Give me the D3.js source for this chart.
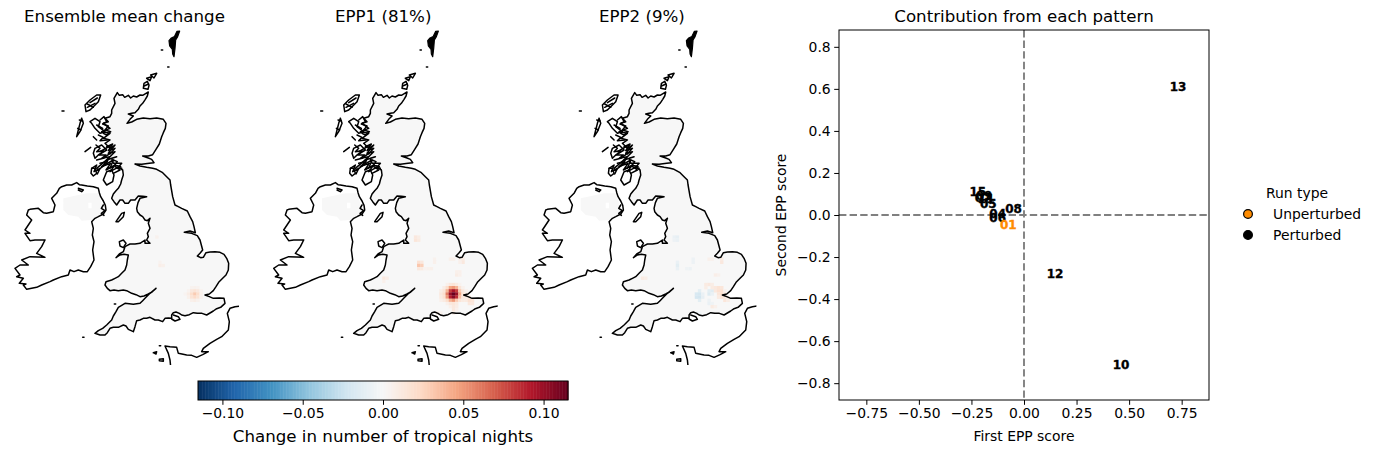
<!DOCTYPE html>
<html><head><meta charset="utf-8">
<script src="https://cdn.jsdelivr.net/npm/d3@7"></script>
<style>html,body{margin:0;padding:0;background:#fff}svg{display:block}text{font-family:"DejaVu Sans",sans-serif;fill:#000}</style>
</head><body><svg id="c" width="1376" height="454"></svg>
<script>
// Colour map (RdBu) and its limit
const rdbuStops=["#053061","#2166ac","#4393c3","#92c5de","#d1e5f0","#f7f7f7","#fddbc7","#f4a582","#d6604d","#b2182b","#67001f"];
const colourLimit=0.1152;
const colourbarTicks=[-0.10,-0.05,0,0.05,0.10];
const panelTitles=["Ensemble mean change","EPP1 (81%)","EPP2 (9%)"];
const colourbarTitle="Change in number of tropical nights";

// Map grid cells: [column, row, change]
const meanCells=[[60,84,.004],[61,84,.005],[62,84,.004],[59,85,.004],[60,85,.012],[61,85,.016],[62,85,.012],[63,85,.004],[58,86,.003],[59,86,.008],[60,86,.02],[61,86,.03],[62,86,.02],[63,86,.006],[59,87,.006],[60,87,.016],[61,87,.022],[62,87,.016],[63,87,.005],[60,88,.006],[61,88,.008],[62,88,.005],[49,68,.005],[50,77,.007],[51,77,.006],[50,76,.004]];
const epp1Cells=[[59,83,.006],[60,83,.012],[61,83,.015],[62,83,.01],[63,83,.004],[58,84,.008],[59,84,.02],[60,84,.045],[61,84,.05],[62,84,.04],[63,84,.015],[64,84,.005],[57,85,.008],[58,85,.015],[59,85,.04],[60,85,.08],[61,85,.095],[62,85,.08],[63,85,.03],[64,85,.012],[65,85,.005],[57,86,.012],[58,86,.02],[59,86,.06],[60,86,.1],[61,86,.115],[62,86,.1],[63,86,.045],[64,86,.015],[65,86,.008],[57,87,.01],[58,87,.018],[59,87,.05],[60,87,.09],[61,87,.105],[62,87,.085],[63,87,.035],[64,87,.012],[65,87,.01],[66,87,.008],[57,88,.006],[58,88,.01],[59,88,.02],[60,88,.04],[61,88,.05],[62,88,.03],[63,88,.015],[64,88,.01],[65,88,.01],[66,88,.018],[67,88,.015],[59,89,.006],[60,89,.012],[61,89,.014],[62,89,.01],[66,89,.012],[67,89,.012],[60,90,.006],[61,90,.012],[62,90,.008],[61,91,.012],[62,91,.006],[61,92,.008],[56,92,.008],[57,92,.005],[50,76,.018],[51,76,.012],[50,77,.032],[51,77,.028],[50,78,.012],[51,78,.01],[49,68,.012],[50,68,.008],[49,69,.014],[50,69,.01],[39,81,.012],[40,81,.008],[39,82,.006],[60,75,.006],[61,75,.006],[63,75,.006],[64,75,.01],[64,76,.012],[63,76,.006],[62,79,.006],[63,79,.006],[62,80,.008],[63,80,.006],[55,75,.005],[55,76,.006],[53,78,.005],[54,78,.006],[52,78,.004]];
const epp2Cells=[[57,85,-.012],[56,86,-.018],[57,86,-.02],[58,86,-.008],[56,87,-.02],[57,87,-.022],[58,87,-.01],[57,88,-.012],[60,85,-.012],[61,85,-.014],[60,86,-.016],[61,86,-.008],[60,88,-.006],[60,89,-.008],[61,89,-.005],[59,83,.01],[60,83,.012],[61,83,.008],[59,84,.008],[61,84,.01],[62,84,.012],[63,84,.016],[64,84,.014],[62,85,.012],[63,85,.018],[64,85,.018],[65,85,.006],[63,86,.014],[64,86,.02],[65,86,.012],[63,87,.01],[64,87,.016],[65,87,.012],[66,87,.006],[65,88,.014],[66,88,.008],[61,90,.01],[62,90,.006],[49,68,-.008],[50,68,-.01],[49,69,-.006],[50,69,-.008],[50,76,-.008],[50,77,-.012],[50,78,-.008],[54,78,-.006],[53,78,-.005],[55,75,-.006],[55,76,-.006],[39,81,.01],[40,81,.008],[60,75,.006],[61,75,.005],[64,75,.01],[64,76,.012],[62,80,.007],[63,80,.005],[56,92,-.006],[57,92,-.004]];
const cellLists=[meanCells,epp1Cells,epp2Cells];

// Coast outlines in map grid units (easting, southing)
const greatBritain=[[352,218],[358,226],[368,224],[374,232],[385,226],[392,234],[400,228],[410,231],[420,225],[428,226],[438,220],[445,216],[442,228],[436,238],[428,250],[420,258],[415,268],[405,278],[395,280],[385,282],[400,288],[390,298],[381,310],[395,306],[410,298],[430,294],[450,296],[470,294],[490,298],[498,310],[496,325],[490,338],[485,350],[478,372],[468,388],[458,404],[445,408],[428,408],[445,414],[455,418],[462,428],[448,430],[425,433],[405,432],[420,438],[440,442],[458,445],[470,448],[488,458],[500,470],[510,480],[512,495],[518,530],[525,555],[535,560],[545,565],[562,573],[570,590],[578,605],[582,620],[586,638],[570,633],[553,637],[575,640],[592,647],[600,660],[604,675],[608,690],[600,700],[592,708],[602,713],[610,712],[618,698],[630,696],[645,695],[660,697],[672,703],[680,715],[686,730],[685,750],[678,765],[668,775],[656,787],[648,800],[640,812],[628,822],[615,825],[628,830],[640,835],[658,834],[672,835],[675,850],[662,862],[650,866],[640,873],[620,885],[606,880],[592,880],[580,878],[568,884],[555,887],[545,885],[538,880],[528,876],[520,878],[515,885],[515,895],[505,894],[495,895],[488,905],[475,900],[465,900],[450,892],[440,895],[430,895],[420,900],[410,902],[405,920],[400,935],[385,928],[378,918],[370,915],[355,922],[340,922],[330,925],[322,938],[315,945],[300,945],[285,940],[295,932],[308,925],[320,915],[335,900],[340,888],[348,875],[355,862],[375,850],[400,853],[420,850],[428,842],[435,835],[450,820],[468,805],[456,816],[445,822],[432,828],[420,830],[408,824],[395,820],[380,812],[370,810],[355,812],[342,810],[330,812],[322,805],[315,795],[318,785],[335,780],[345,775],[355,770],[365,760],[375,750],[380,735],[382,720],[385,705],[372,703],[360,705],[348,713],[358,702],[370,695],[375,680],[382,676],[390,672],[405,672],[420,670],[435,660],[435,670],[450,670],[440,660],[445,650],[442,640],[450,625],[445,610],[450,595],[442,602],[435,600],[428,590],[420,585],[412,575],[410,565],[414,548],[420,535],[440,530],[428,529],[415,528],[405,540],[392,540],[385,550],[375,550],[368,540],[360,540],[350,555],[342,545],[335,535],[340,522],[348,512],[355,505],[362,492],[365,480],[370,465],[368,450],[355,442],[365,430],[340,430],[335,415],[350,410],[320,420],[345,395],[325,400],[345,375],[330,385],[315,370],[330,360],[310,355],[330,340],[305,335],[330,325],[310,310],[325,305],[315,295],[330,290],[335,280],[335,270],[345,250],[342,235],[352,218]];
const ireland=[[230,488],[238,494],[245,495],[262,498],[280,500],[295,505],[298,518],[302,530],[310,543],[316,556],[318,570],[310,582],[295,590],[285,595],[275,605],[280,625],[277,645],[282,665],[278,690],[282,720],[272,740],[262,755],[250,755],[235,750],[222,755],[210,750],[205,765],[185,770],[160,780],[150,785],[125,795],[110,802],[95,805],[80,808],[70,795],[78,792],[58,790],[70,775],[50,770],[60,765],[45,745],[60,735],[85,735],[65,720],[90,710],[135,712],[110,700],[125,680],[135,660],[105,660],[90,662],[75,640],[90,640],[75,630],[95,600],[80,585],[85,570],[90,568],[115,565],[130,578],[140,580],[160,575],[165,555],[155,535],[170,520],[178,505],[185,500],[200,495],[215,495],[230,488]];
const northernIrelandPatch=[[190,535],[260,520],[295,520],[305,550],[312,575],[275,600],[245,602],[235,590],[205,585],[190,570],[190,535]];
const patchHole=[[265,548],[275,548],[275,565],[265,565],[265,548]];
const solidIslands=[
 [[507,62],[514,54],[523,50],[531,34],[539,33],[533,50],[527,60],[525,85],[522,110],[518,102],[517,88],[509,78],[507,62]]
];
const islands=[
 [[430,205],[432,190],[442,184],[447,196],[444,208],[430,205]],[[440,175],[455,170],[450,182],[440,175]],[[452,165],[470,160],[462,174],[452,165]],[[432,198],[446,192]],
 [[258,275],[255,255],[270,240],[290,225],[302,225],[295,245],[280,260],[270,270],[258,275]],[[262,262],[285,250]],[[270,248],[292,234]],[[262,252],[280,262]],
 [[245,295],[250,310],[240,335],[230,350],[235,330],[240,310],[245,295]],[[238,300],[248,303]],[[233,325],[243,330]],
 [[270,305],[285,295],[300,305],[295,320],[315,335],[300,340],[285,325],[275,310],[270,305]],[[290,315],[308,325]],[[280,350],[290,360]],
 [[300,300],[312,290],[320,305],[308,312],[325,318],[315,330],[332,335],[320,345],[310,340]],
 [[295,345],[310,352],[300,362],[322,360]],
 [[255,395],[272,382]],
 [[285,385],[305,375],[320,390],[295,405],[285,415],[280,400],[285,385]],[[290,420],[310,415],[330,400]],[[300,395],[335,375]],
 [[288,375],[300,385],[290,395],[310,392],[298,405],[318,405],[305,415],[330,410]],
 [[320,380],[338,372],[325,392],[345,385],[330,402]],
 [[275,445],[285,445],[290,460],[280,468],[273,460],[275,445]],
 [[290,445],[325,415],[320,430],[295,450],[290,445]],[[305,440],[340,420],[330,445]],
 [[275,445],[290,435],[282,455],[300,445],[292,462]],
 [[300,430],[320,425],[305,440],[332,430],[318,450],[345,435],[330,455],[358,440]],
 [[340,420],[352,425],[345,435],[362,440]],
 [[310,480],[320,455],[335,450],[342,465],[338,485],[320,495],[310,480]],
 [[340,460],[360,450],[345,440],[365,445]],
 [[348,605],[365,580],[373,577],[370,590],[355,605],[348,605]],
 [[358,665],[370,660],[378,670],[370,683],[360,678],[358,665]],
 [[520,885],[535,890],[540,898],[525,903],[515,897]],
 [[235,505],[250,510],[245,515],[235,510]],[[310,555],[304,565],[315,572],[304,580],[312,586]],
 [[460,998],[470,995],[468,1002],[460,998]],[[478,1018],[490,1016],[490,1024],[478,1022],[478,1018]],[[478,977],[482,977]],
 [[186,273],[192,273]],[[484,90],[488,90]],[[503,141],[507,141]],[[248,952],[252,952]],[[343,852],[347,852]]
];
const france=[[720,858],[705,860],[690,865],[682,880],[688,905],[685,930],[665,950],[650,958],[630,970],[610,985],[605,995],[625,995],[608,1004],[590,1012],[575,1006],[560,1005],[535,1000],[530,982],[510,980],[495,978],[505,1000],[510,1020],[512,1040]];

// Scatter of pattern scores
const runLabels=["15","09","07","11","05","08","04","06","12","13","10","01"];
const firstScore=[-.22,-.19,-.195,-.18,-.17,-.05,-.125,-.125,.148,.733,.462,-.075];
const secondScore=[.11,.09,.08,.075,.05,.03,.005,-.015,-.28,.608,-.713,-.048];
const controlRun="01";
const scatterXTicks=[-.75,-.5,-.25,0,.25,.5,.75];
const scatterYTicks=[-.8,-.6,-.4,-.2,0,.2,.4,.6,.8];
const legendKeys=["Unperturbed","Perturbed"];
const legendColours=["#ff8c00","#000000"];

const svg=d3.select("#c");
const colour=d3.scaleLinear().domain(d3.range(11).map(i=>-colourLimit+i*colourLimit/5)).range(rdbuStops).interpolate(d3.interpolateRgb).clamp(true);
const fmt=v=>d3.format(".2f")(v).replace("-","\u2212");
const fmt1=v=>d3.format(".1f")(v).replace("-","\u2212");
const tickPx=13.9, titlePx=16.67;

// Maps
const gx=d3.scaleLinear().domain([0,750]).range([0,250]);
const gy=d3.scaleLinear().domain([0,1050]).range([0,350]);
const line=d3.line().x(d=>gx(d[0])).y(d=>gy(d[1])).curve(d3.curveLinear);
const cellSize=9.5;
const defs=svg.append("defs");
defs.append("clipPath").attr("id","mapclip").append("rect").attr("x",10).attr("y",8).attr("width",229).attr("height",337);
panelTitles.forEach((t,i)=>{
  const dx=258.7*i;
  svg.append("text").attr("x",124.5+dx).attr("y",22).attr("text-anchor","middle").attr("font-size",titlePx).text(t);
  const p=svg.append("g").attr("transform",`translate(${dx},20)`).attr("clip-path","url(#mapclip)");
  p.append("path").attr("d",line(greatBritain)+"Z").attr("fill",colour(0));
  p.append("path").attr("d",line(northernIrelandPatch)+"Z"+line(patchHole)+"Z").attr("fill",colour(0)).attr("fill-rule","evenodd");
  p.selectAll("rect.cell").data(cellLists[i]).join("rect").attr("class","cell")
    .attr("x",d=>gx(d[0]*cellSize)).attr("y",d=>gy(d[1]*cellSize))
    .attr("width",gx(cellSize)+.2).attr("height",gy(cellSize)+.2).attr("fill",d=>colour(d[2]));
  p.selectAll("path.coast").data([greatBritain,ireland,france,...islands]).join("path").attr("class","coast")
    .attr("d",line).attr("fill","none").attr("stroke","#000").attr("stroke-width",1.5).attr("stroke-linejoin","round").attr("stroke-linecap","round");
  p.selectAll("path.solid").data(solidIslands).join("path").attr("class","solid")
    .attr("d",d=>line(d)+"Z").attr("fill","#000").attr("stroke","#000").attr("stroke-width",1.2).attr("stroke-linejoin","round");
});

// Colourbar
const cb=d3.scaleLinear().domain([-colourLimit,colourLimit]).range([198,568]);
const cbG=svg.append("g");
const levels=d3.range(256).map(i=>-colourLimit+(i+.5)*2*colourLimit/256);
const lw=2*colourLimit/256;
cbG.selectAll("rect").data(levels).join("rect").attr("x",d=>cb(d-lw/2)).attr("y",381).attr("width",cb(lw)-cb(0)+.5).attr("height",19).attr("fill",d=>colour(d));
cbG.append("rect").attr("x",198).attr("y",381).attr("width",370).attr("height",19).attr("fill","none").attr("stroke","#000").attr("stroke-width",1);
const cbAxis=svg.append("g").attr("transform","translate(0,400)").call(d3.axisBottom(cb).tickValues(colourbarTicks).tickFormat(fmt).tickSize(4.8).tickPadding(3.5));
cbAxis.select(".domain").remove();
cbAxis.selectAll("text").attr("font-size",tickPx).style("font-family",'"DejaVu Sans"');
svg.append("text").attr("x",383).attr("y",442).attr("text-anchor","middle").attr("font-size",titlePx).text(colourbarTitle);

// Scatter
const sx=d3.scaleLinear().domain([-.88,.88]).range([839,1209]);
const sy=d3.scaleLinear().domain([-.88,.88]).range([400,30]);
const ax=svg.append("g").attr("transform","translate(0,400)").call(d3.axisBottom(sx).tickValues(scatterXTicks).tickFormat(fmt).tickSize(4.8).tickPadding(3.5));
const ay=svg.append("g").attr("transform","translate(839,0)").call(d3.axisLeft(sy).tickValues(scatterYTicks).tickFormat(fmt1).tickSize(4.8).tickPadding(3.5));
[ax,ay].forEach(a=>{a.select(".domain").remove();a.selectAll("text").attr("font-size",tickPx).style("font-family",'"DejaVu Sans"');});
svg.append("line").attr("x1",sx(0)).attr("x2",sx(0)).attr("y1",30).attr("y2",400).attr("stroke","#808080").attr("stroke-width",1.9).attr("stroke-dasharray","7.4,3.2");
svg.append("line").attr("x1",839).attr("x2",1209).attr("y1",sy(0)).attr("y2",sy(0)).attr("stroke","#808080").attr("stroke-width",1.9).attr("stroke-dasharray","7.4,3.2");
svg.append("g").selectAll("text").data(runLabels).join("text")
  .attr("x",(d,i)=>sx(firstScore[i])).attr("y",(d,i)=>sy(secondScore[i]))
  .attr("text-anchor","middle").attr("dominant-baseline","central").attr("font-size",12).attr("font-weight","bold")
  .style("fill",d=>d===controlRun?legendColours[0]:legendColours[1])
  .style("stroke",d=>d===controlRun?legendColours[0]:legendColours[1]).style("stroke-width",.35).text(d=>d);
svg.append("rect").attr("x",839).attr("y",30).attr("width",370).attr("height",370).attr("fill","none").attr("stroke","#000").attr("stroke-width",1);
svg.append("text").attr("x",1024).attr("y",22).attr("text-anchor","middle").attr("font-size",titlePx).text("Contribution from each pattern");
svg.append("text").attr("x",1024).attr("y",441).attr("text-anchor","middle").attr("font-size",tickPx).text("First EPP score");
svg.append("text").attr("transform","translate(786,215) rotate(-90)").attr("text-anchor","middle").attr("font-size",tickPx).text("Second EPP score");

// Legend
svg.append("text").attr("x",1297).attr("y",198).attr("text-anchor","middle").attr("font-size",tickPx).text("Run type");
const lg=svg.append("g").selectAll("g").data(legendKeys).join("g").attr("transform",(d,i)=>`translate(0,${214+i*21})`);
lg.append("circle").attr("cx",1248).attr("r",4.4).attr("fill",(d,i)=>legendColours[i]).attr("stroke","#000").attr("stroke-width",1.2);
lg.append("text").attr("x",1273).attr("y",4.8).attr("font-size",tickPx).text(d=>d);
</script></body></html>
